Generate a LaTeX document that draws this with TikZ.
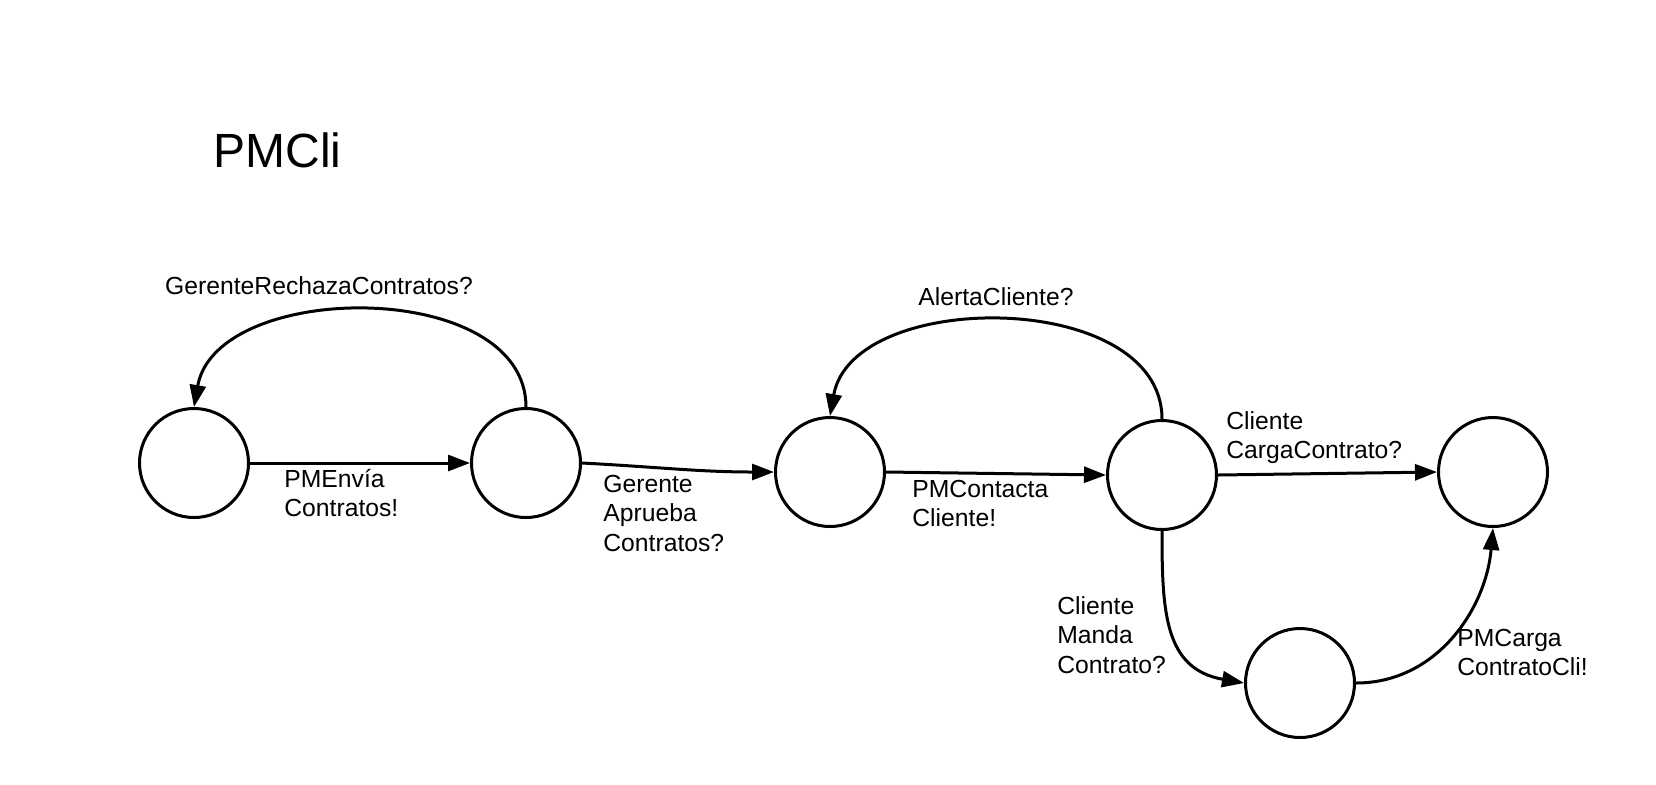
\documentclass[tikz,border=0pt]{standalone}
\usepackage{fontspec}
\setmainfont{Liberation Sans}
\usetikzlibrary{arrows.meta}
\begin{document}
\begin{tikzpicture}[x=0.5pt,y=0.5pt,
  state/.style={circle,draw,line width=1.5pt,minimum size=54.5pt,inner sep=0pt},
  edge/.style={line width=1.5pt,-{Triangle[length=11pt,width=8pt]}},
  lab/.style={inner sep=0pt,font=\fontsize{12.35}{14.8}\selectfont}]
\useasboundingbox (0,0) rectangle (1656,-784);
\fill[white] (0,0) rectangle (1656,-784);
\node[inner sep=0pt,anchor=base west,font=\fontsize{24}{28}\selectfont] (title) at (213,-167) {PMCli};
\node[state] (c1) at (194,-463) {};
\node[state] (c2) at (526,-463) {};
\node[state] (c3) at (830,-472) {};
\node[state] (c4) at (1162,-475) {};
\node[state] (c5) at (1493,-472) {};
\node[state] (c6) at (1300,-683) {};
\draw[edge] (c1.east) -- (c2.west);
\draw[edge] (c2.east) to[out=-3,in=180] (c3.west);
\draw[edge] (c3.east) -- (c4.west);
\draw[edge] (c4.east) -- (c5.west);
\draw[edge] (c2.north) to[out=90,in=80] (c1.north);
\draw[edge] (c4.north) to[out=90,in=80] (c3.north);
\draw[edge] (c4.south) to[out=-90,in=170,looseness=1.2] (c6.west);
\draw[edge] (c6.east) to[out=0,in=-95] (c5.south);
\node[lab,anchor=base] (l1) at (319,-294) {GerenteRechazaContratos?};
\node[lab,anchor=base west] (l2) at (284,-487) {\begin{tabular}[t]{@{}l@{}}PMEnvía\\Contratos!\end{tabular}};
\node[lab,anchor=base west] (l3) at (603,-492) {\begin{tabular}[t]{@{}l@{}}Gerente\\Aprueba\\Contratos?\end{tabular}};
\node[lab,anchor=base] (l4) at (996,-305) {AlertaCliente?};
\node[lab,anchor=base west] (l5) at (912,-497) {\begin{tabular}[t]{@{}l@{}}PMContacta\\Cliente!\end{tabular}};
\node[lab,anchor=base west] (l6) at (1226,-429) {\begin{tabular}[t]{@{}l@{}}Cliente\\CargaContrato?\end{tabular}};
\node[lab,anchor=base west] (l7) at (1057,-614) {\begin{tabular}[t]{@{}l@{}}Cliente\\Manda\\Contrato?\end{tabular}};
\node[lab,anchor=base west] (l8) at (1457,-646) {\begin{tabular}[t]{@{}l@{}}PMCarga\\ContratoCli!\end{tabular}};
\end{tikzpicture}
\end{document}
